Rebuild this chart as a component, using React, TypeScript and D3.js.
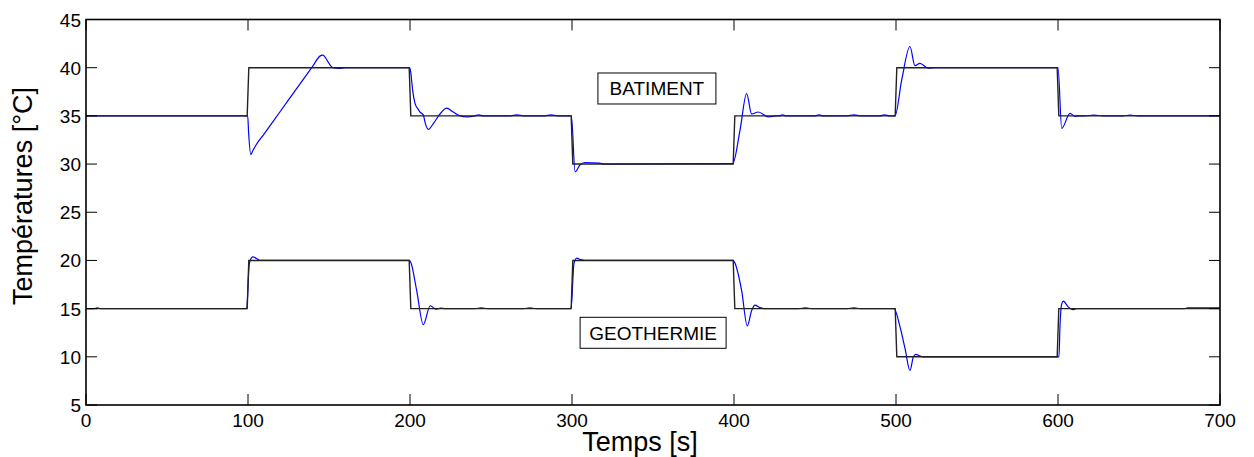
import React from "react";
import * as d3 from "d3";

const timeTicks = [0, 100, 200, 300, 400, 500, 600, 700];
const tempTicks = [5, 10, 15, 20, 25, 30, 35, 40, 45];

const switchTimes = [0, 100, 200, 300, 400, 500, 600, 700];
const batimentSetpoint = [35, 40, 35, 30, 35, 40, 35];
const geothermieSetpoint = [15, 20, 15, 20, 15, 10, 15];

const batimentTime = [
  0, 99.8, 100.4, 101.7, 103, 104.5, 110, 120, 130, 140, 144.4, 146.1, 150.6, 152.3, 156, 160, 199.6,
  200.4, 201.6, 203.1, 205, 206.2, 208.2, 209.5, 211.3, 214.4, 219, 222.6, 226.7, 230.9, 235, 240,
  242.5, 245, 262, 266, 270, 283, 287, 291, 299.6, 301.9, 304.9, 308, 317, 320,
  399.2, 403.7, 407.8, 410.9, 415, 421.2, 426.3, 428, 430, 432, 450, 452.5, 455,
  470, 474, 478, 490, 493, 496, 499.4, 503.5, 508.6, 511.7, 514.8, 519.9, 524,
  600, 602.3, 607.4, 610.5, 613, 617, 622, 628, 640, 644.5, 649, 700,
];
const batimentTemp = [
  35, 35, 33.2, 31.0, 31.4, 31.85, 33.14, 35.48, 37.83, 40.17, 41.2, 41.3, 40.3, 40.0, 39.92, 40, 40,
  39.6, 37.7, 36.3, 35.7, 35.4, 35.1, 34.2, 33.6, 34.2, 35.3, 35.8, 35.4, 35.0, 34.9, 35,
  35.1, 35, 35, 35.1, 35, 35, 35.1, 35, 35, 29.2, 29.9, 30.16, 30.1, 30,
  30.05, 33.5, 37.3, 35.2, 35.4, 34.9, 35.0, 35, 35.1, 35, 35, 35.1, 35,
  35, 35.1, 35, 35, 35.1, 35, 35.0, 38.7, 42.2, 40.2, 40.45, 39.95, 40,
  40, 33.7, 35.26, 34.95, 35, 35, 35.08, 35, 35, 35.08, 35, 35,
];

const geothermieTime = [
  0, 5, 7, 9, 99.2, 100.8, 102.9, 106.4, 107.4, 199.5, 200.4, 204.1, 208.2,
  212.5, 216, 219, 222, 240, 244, 248, 270, 274, 278, 299.4, 301.2, 302.9,
  305.4, 308, 399.4, 400.2, 404.7, 408.2, 410.9, 412.9, 416, 419, 440, 444, 448,
  470, 474, 478, 498.8, 502.5, 505.6, 508.6, 510.7, 512.3, 514.8, 516.8, 600.6,
  601.2, 602.3, 603.3, 606.4, 609.1, 611.6, 678, 680, 700,
];
const geothermieTemp = [
  15, 15, 15.08, 15, 15, 19.67, 20.36, 20.08, 20, 20, 19.84, 16.9, 13.33,
  15.3, 14.95, 15.05, 15, 15, 15.08, 15, 15, 15.08, 15, 15, 19.67, 20.25,
  20.08, 20, 20, 19.85, 16.9, 13.2, 14.8, 15.37, 15.1, 15, 15, 15.08, 15,
  15, 15.08, 15, 15.0, 13.1, 10.84, 8.58, 9.97, 10.25, 10.07, 10, 10,
  13.1, 15.5, 15.78, 15.16, 14.9, 15.0, 15, 15.07, 15.07,
];

const annotations = [
  { label: "BATIMENT", t: 316, v: 39.45, w: 118, h: 31 },
  { label: "GEOTHERMIE", t: 305, v: 14.1, w: 146, h: 31 },
];

const W = 1254;
const H = 457;
const margin = { left: 86, right: 34, top: 19.5, bottom: 52 };
const FONT = "'Liberation Sans', Arial, sans-serif";

export default function App() {
  const x = d3
    .scaleLinear()
    .domain([0, 700])
    .range([margin.left, W - margin.right]);
  const y = d3
    .scaleLinear()
    .domain([5, 45])
    .range([H - margin.bottom, margin.top]);

  const line = d3
    .line<[number, number]>()
    .x((d) => x(d[0]))
    .y((d) => y(d[1]));
  const smooth = d3
    .line<[number, number]>()
    .x((d) => x(d[0]))
    .y((d) => y(d[1]))
    .curve(d3.curveMonotoneX);

  const stepPoints = (levels: number[]): [number, number][] => {
    const pts: [number, number][] = [];
    levels.forEach((lv, i) => {
      const t0 = switchTimes[i];
      const t1 = switchTimes[i + 1];
      if (i === 0) pts.push([t0, lv]);
      else {
        pts.push([t0 - 0.5, levels[i - 1]]);
        pts.push([t0 + 0.5, lv]);
      }
      if (i === levels.length - 1) pts.push([t1, lv]);
    });
    return pts;
  };

  const zip = (ts: number[], vs: number[]): [number, number][] =>
    ts.map((t, i) => [t, vs[i]]);

  const x0 = x(0);
  const x1 = x(700);
  const yTop = y(45);
  const yBot = y(5);
  const tl = 11;

  return (
    <svg
      width={W}
      height={H}
      style={{ position: "absolute", left: 0, top: 0, display: "block", background: "#fff" }}
      fontFamily={FONT}
    >
      <rect x={0} y={0} width={W} height={H} fill="#fff" />
      <path d={smooth(zip(batimentTime, batimentTemp)) || ""} fill="none" stroke="#0000ff" strokeWidth={1.2} />
      <path d={smooth(zip(geothermieTime, geothermieTemp)) || ""} fill="none" stroke="#0000ff" strokeWidth={1.2} />
      <path d={line(stepPoints(batimentSetpoint)) || ""} fill="none" stroke="#222" strokeWidth={1.4} />
      <path d={line(stepPoints(geothermieSetpoint)) || ""} fill="none" stroke="#222" strokeWidth={1.4} />

      <rect x={x0} y={yTop} width={x1 - x0} height={yBot - yTop} fill="none" stroke="#000" strokeWidth={1.6} />
      {timeTicks.map((t) => (
        <g key={"xt" + t}>
          <line x1={x(t)} x2={x(t)} y1={yBot} y2={yBot - tl} stroke="#000" strokeWidth={1} />
          <line x1={x(t)} x2={x(t)} y1={yTop} y2={yTop + tl} stroke="#000" strokeWidth={1} />
          <text x={x(t)} y={yBot + 22} textAnchor="middle" fontSize={19} fill="#000">
            {t}
          </text>
        </g>
      ))}
      {tempTicks.map((v) => (
        <g key={"yt" + v}>
          <line x1={x0} x2={x0 + tl} y1={y(v)} y2={y(v)} stroke="#000" strokeWidth={1} />
          <line x1={x1} x2={x1 - tl} y1={y(v)} y2={y(v)} stroke="#000" strokeWidth={1} />
          <text x={81} y={y(v) + 7} textAnchor="end" fontSize={19} fill="#000">
            {v}
          </text>
        </g>
      ))}
      <text x={640} y={451} textAnchor="middle" fontSize={27} fill="#000">
        Temps [s]
      </text>
      <text
        transform={`translate(32,196) rotate(-90)`}
        textAnchor="middle"
        fontSize={27}
        fill="#000"
      >
        Températures [°C]
      </text>

      {annotations.map((a) => (
        <g key={a.label}>
          <rect x={x(a.t)} y={y(a.v)} width={a.w} height={a.h} fill="#fff" stroke="#000" strokeWidth={1} />
          <text
            x={x(a.t) + a.w / 2}
            y={y(a.v) + a.h / 2 + 7}
            textAnchor="middle"
            fontSize={19}
            fill="#000"
          >
            {a.label}
          </text>
        </g>
      ))}
    </svg>
  );
}
